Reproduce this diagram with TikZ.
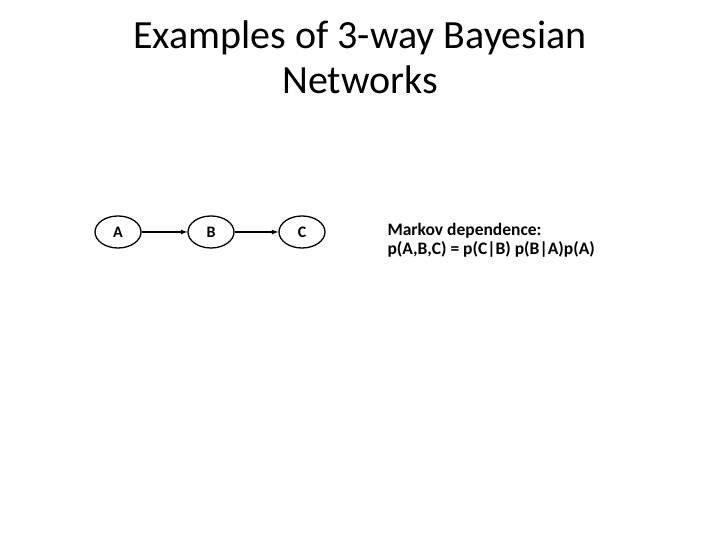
\documentclass[tikz,border=0pt]{standalone}
\usepackage{fontspec}
\setmainfont{Carlito}
\usetikzlibrary{shapes.geometric}
\begin{document}
\begin{tikzpicture}[x=1pt,y=1pt,
  bn/.style={draw,line width=1.3pt,ellipse,minimum width=46pt,minimum height=32pt,inner sep=0pt,font=\fontsize{16}{18}\selectfont\bfseries},
  edge/.style={-latex,line width=1.2pt}]
\useasboundingbox (0,0) rectangle (720,540);
\node[align=center,font=\fontsize{40}{45}\selectfont] (title) at (360,483) {Examples of 3-way Bayesian\\Networks};
\node[bn] (a) at (118,308) {A};
\node[bn] (b) at (211,308) {B};
\node[bn] (c) at (302,308) {C};
\draw[edge] (a) -- (b);
\draw[edge] (b) -- (c);
\node[anchor=west,align=left,font=\fontsize{17.5}{19}\selectfont\bfseries] (txt) at (384,300) {Markov dependence:\\p(A,B,C) = p(C|B) p(B|A)p(A)};
\end{tikzpicture}
\end{document}
